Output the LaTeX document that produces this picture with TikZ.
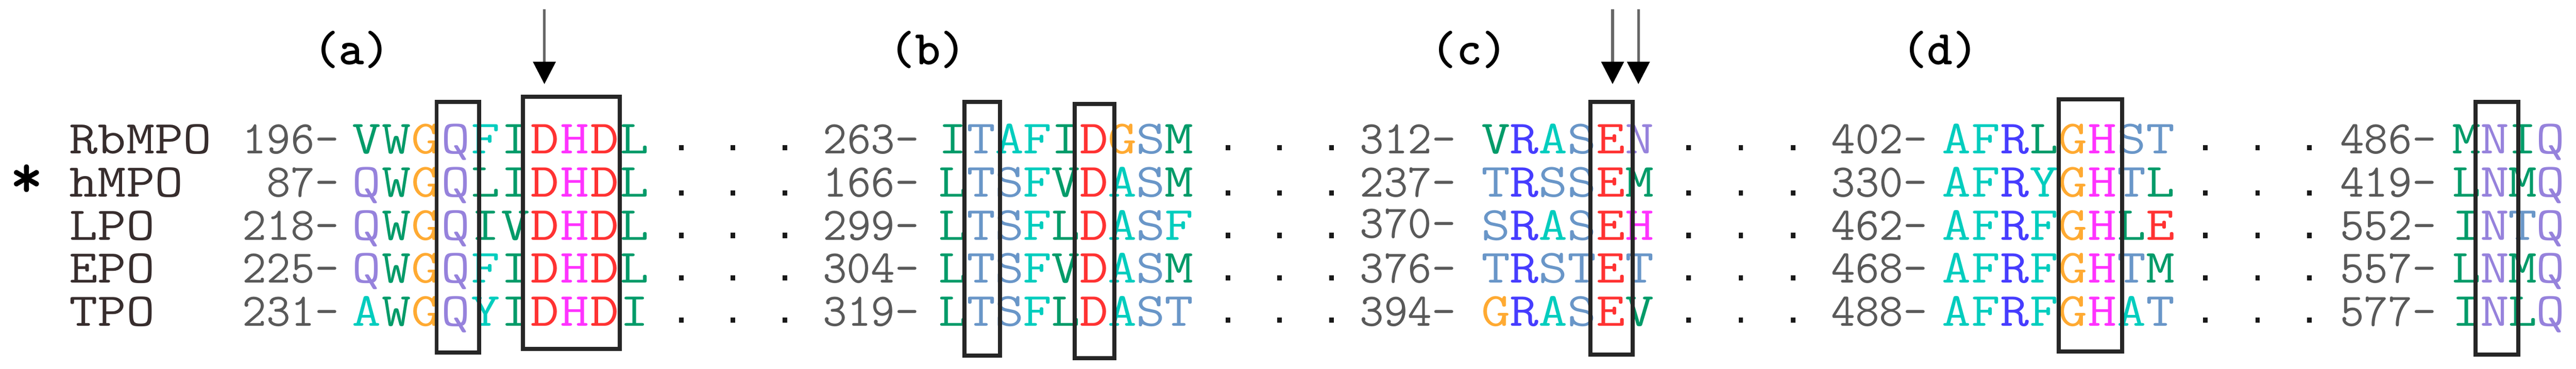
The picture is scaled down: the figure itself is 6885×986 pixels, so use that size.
\documentclass[tikz,border=0pt]{standalone}
\usepackage{fontspec}
\usepackage{graphicx}
\usetikzlibrary{arrows.meta}
\definecolor{grn}{RGB}{0,155,105}
\definecolor{cya}{RGB}{0,205,190}
\definecolor{ora}{RGB}{255,170,50}
\definecolor{lav}{RGB}{150,130,220}
\definecolor{red1}{RGB}{255,50,50}
\definecolor{mag}{RGB}{255,50,255}
\definecolor{stb}{RGB}{105,150,200}
\definecolor{blu}{RGB}{70,60,255}
\colorlet{cV}{grn}\colorlet{cW}{grn}\colorlet{cI}{grn}\colorlet{cL}{grn}\colorlet{cM}{grn}
\colorlet{cF}{cya}\colorlet{cA}{cya}\colorlet{cY}{cya}
\colorlet{cG}{ora}\colorlet{cQ}{lav}\colorlet{cN}{lav}
\colorlet{cD}{red1}\colorlet{cE}{red1}\colorlet{cH}{mag}
\colorlet{cT}{stb}\colorlet{cS}{stb}\colorlet{cR}{blu}
\newcommand{\seqrow}[5]{%
  \foreach \ch [count=\i from 0] in {#5} {
    \node[res, text=c\ch] (#1-\i) at ({#2+#3*(\i+0.5)}, #4) {\scalebox{1}[0.85]{\ch}};
  }}
\begin{document}
\begin{tikzpicture}[x=1pt,y=-1pt,
  res/.style={anchor=base, inner sep=0pt, font=\ttfamily\fontsize{150}{150}\selectfont},
  num/.style={anchor=base east, inner sep=0pt, text=black!65, font=\ttfamily\fontsize{125}{125}\selectfont},
  nm/.style={anchor=base west, inner sep=0pt, text={rgb,255:red,55;green,45;blue,45}, font=\ttfamily\fontsize{148}{148}\selectfont},
  lab/.style={inner sep=0pt, font=\ttfamily\bfseries\fontsize{130}{130}\selectfont},
  hbox/.style={draw=black!85, line width=11pt, inner sep=0pt},
  arr/.style={draw=black!60, line width=7pt, -{Triangle[width=60pt,length=60pt,fill=black,color=black]}}]
\useasboundingbox (0,0) rectangle (6885,986);
\fill[white] (0,0) rectangle (6885,986);
% labels
\node[lab] (la) at (940,133) {(a)};
\node[lab] (lb) at (2480,133) {(b)};
\node[lab] (lc) at (3927,133) {(c)};
\node[lab] (ld) at (5185,133) {(d)};
% names
\node[nm] (n1) at (185,411) {\scalebox{1}[0.85]{RbMPO}};
\node[nm] (n2) at (185,527) {\scalebox{1}[0.85]{hMPO}};
\node[nm] (n3) at (185,642) {\scalebox{1}[0.85]{LPO}};
\node[nm] (n4) at (185,757) {\scalebox{1}[0.85]{EPO}};
\node[nm] (n5) at (185,872) {\scalebox{1}[0.85]{TPO}};
\node[inner sep=0pt, font=\ttfamily\bfseries\fontsize{170}{170}\selectfont] (star) at (72,485) {*};
% numbers
\foreach \n/\y [count=\k] in {196/411,87/527,218/642,225/757,231/872} {\node[num] (na\k) at (906,\y) {\n-};}
\foreach \n/\y [count=\k] in {263/411,166/527,299/642,304/757,319/872} {\node[num] (nb\k) at (2457,\y) {\n-};}
\foreach \n/\y [count=\k] in {312/411,237/527,370/637,376/757,394/872} {\node[num] (nc\k) at (3892,\y) {\n-};}
\foreach \n/\y [count=\k] in {402/411,330/527,462/642,468/757,488/872} {\node[num] (nd\k) at (5152,\y) {\n-};}
\foreach \n/\y [count=\k] in {486/411,419/527,552/642,557/757,577/872} {\node[num] (ne\k) at (6512,\y) {\n-};}
% sequences (a)
\seqrow{a1}{940}{79.5}{411}{V,W,G,Q,F,I,D,H,D,L}
\seqrow{a2}{940}{79.5}{527}{Q,W,G,Q,L,I,D,H,D,L}
\seqrow{a3}{940}{79.5}{642}{Q,W,G,Q,I,V,D,H,D,L}
\seqrow{a4}{940}{79.5}{757}{Q,W,G,Q,F,I,D,H,D,L}
\seqrow{a5}{940}{79.5}{872}{A,W,G,Q,Y,I,D,H,D,I}
% (b)
\seqrow{b1}{2509}{75.5}{411}{I,T,A,F,I,D,G,S,M}
\seqrow{b2}{2509}{75.5}{527}{L,T,S,F,V,D,A,S,M}
\seqrow{b3}{2509}{75.5}{642}{L,T,S,F,L,D,A,S,F}
\seqrow{b4}{2509}{75.5}{757}{L,T,S,F,V,D,A,S,M}
\seqrow{b5}{2509}{75.5}{872}{L,T,S,F,L,D,A,S,T}
% (c)
\seqrow{c1}{3959}{77}{411}{V,R,A,S,E,N}
\seqrow{c2}{3959}{77}{527}{T,R,S,S,E,M}
\seqrow{c3}{3959}{77}{642}{S,R,A,S,E,H}
\seqrow{c4}{3959}{77}{757}{T,R,S,T,E,T}
\seqrow{c5}{3959}{77}{872}{G,R,A,S,E,V}
% (d)
\seqrow{d1}{5190}{78}{411}{A,F,R,L,G,H,S,T}
\seqrow{d2}{5190}{78}{527}{A,F,R,Y,G,H,T,L}
\seqrow{d3}{5190}{78}{642}{A,F,R,F,G,H,L,E}
\seqrow{d4}{5190}{78}{757}{A,F,R,F,G,H,T,M}
\seqrow{d5}{5190}{78}{872}{A,F,R,F,G,H,A,T}
% (e)
\seqrow{e1}{6555}{75}{411}{M,N,I,Q}
\seqrow{e2}{6555}{75}{527}{L,N,M,Q}
\seqrow{e3}{6555}{75}{642}{I,N,T,Q}
\seqrow{e4}{6555}{75}{757}{L,N,M,Q}
\seqrow{e5}{6555}{75}{872}{I,N,L,Q}
% dots
\foreach \x in {1821,1959,2098,3282,3420,3559,4513,4653,4793,5894,6034,6172}
  \foreach \y in {395,516,630,744,856}
    \fill[black!90] (\x-6,\y-7) rectangle (\x+6,\y+7);
% boxes
\node[hbox, minimum width=113pt, minimum height=671pt] (bqa) at (1223.5,607.5) {};
\node[hbox, minimum width=259pt, minimum height=674pt] (bdhd) at (1527.5,596) {};
\node[hbox, minimum width=95pt, minimum height=680pt] (btb) at (2625.5,612) {};
\node[hbox, minimum width=106pt, minimum height=681pt] (bdb) at (2926,618.5) {};
\node[hbox, minimum width=112pt, minimum height=677pt] (bec) at (4307,610.5) {};
\node[hbox, minimum width=170pt, minimum height=674pt] (bgh) at (5587,603) {};
\node[hbox, minimum width=114pt, minimum height=677pt] (bne) at (6674,610.5) {};
% arrows
\coordinate (s1) at (1455,25); \coordinate (t1) at (1455,225);
\coordinate (s2) at (4310,25); \coordinate (t2) at (4310,225);
\coordinate (s3) at (4379,25); \coordinate (t3) at (4379,225);
\draw[arr] (s1) -- (t1);
\draw[arr] (s2) -- (t2);
\draw[arr] (s3) -- (t3);
\end{tikzpicture}
\end{document}
